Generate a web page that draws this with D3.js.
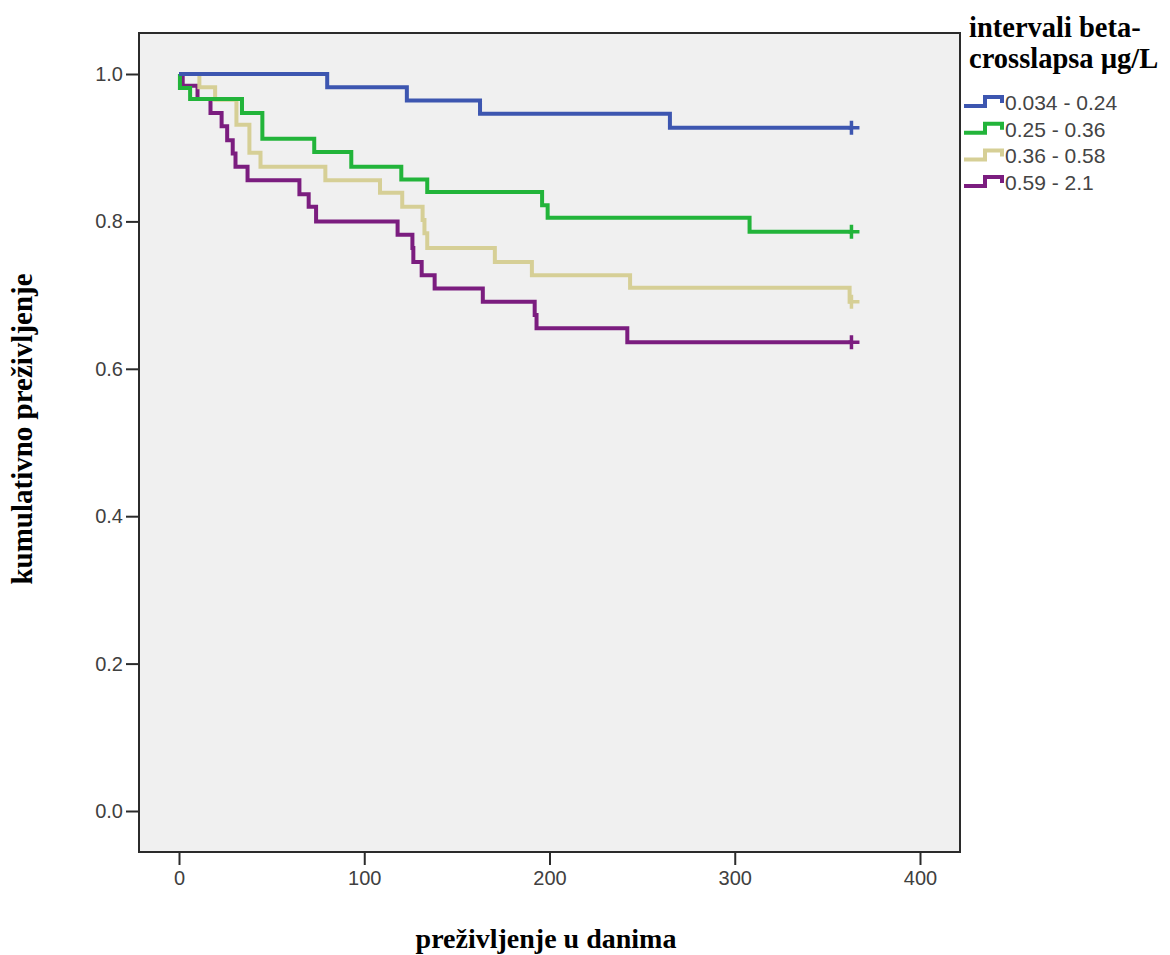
<!DOCTYPE html>
<html>
<head>
<meta charset="utf-8">
<script src="https://cdn.jsdelivr.net/npm/d3@7"></script>
<style>
  html, body { margin: 0; padding: 0; background: #ffffff; }
  svg { display: block; }
</style>
</head>
<body>
<svg id="chart" width="1170" height="955"></svg>
<script>
// ---------------- DATA ----------------
const seriesNames = ["0.034 - 0.24", "0.25 - 0.36", "0.36 - 0.58", "0.59 - 2.1"];
const seriesColors = ["#3d56b0", "#22b43a", "#d6cf96", "#7b1d7f"];

const blueTimes = [0, 80, 123, 162.5, 265, 363];
const blueSurv  = [1, 0.982, 0.964, 0.946, 0.927, 0.927];

const greenTimes = [0, 0.5, 6, 34, 45, 73, 93, 120, 134, 196, 199, 308, 363];
const greenSurv  = [1, 0.981, 0.966, 0.947, 0.912, 0.894, 0.874, 0.857, 0.840, 0.822, 0.805, 0.786, 0.786];

const tanTimes = [0, 11, 19.5, 31, 38, 44, 79, 108.5, 120.5, 131.5, 132.5, 134, 170.5, 190.5, 243.5, 362, 363];
const tanSurv  = [1, 0.982, 0.965, 0.931, 0.893, 0.874, 0.856, 0.839, 0.820, 0.802, 0.784, 0.764, 0.745, 0.727, 0.710, 0.691, 0.691];

const purpleTimes = [0, 2, 10, 17, 23, 26, 29, 30.5, 37, 65, 70, 74, 118, 126, 126.5, 131, 138, 164, 192, 193, 242, 363];
const purpleSurv  = [1, 0.984, 0.966, 0.947, 0.929, 0.910, 0.892, 0.874, 0.856, 0.837, 0.820, 0.800, 0.782, 0.764, 0.745, 0.727, 0.709, 0.691, 0.673, 0.655, 0.636, 0.636];

const censorTimes = [363, 363, 363, 363];

const xTicks = [0, 100, 200, 300, 400];
const yTicks = [0.0, 0.2, 0.4, 0.6, 0.8, 1.0];

const xLabel = "preživljenje u danima";
const yLabel = "kumulativno preživljenje";
const legendTitle = ["intervali beta-", "crosslapsa µg/L"];

// ---------------- LAYOUT ----------------
const svg = d3.select("#chart");
const frame = { left: 139, top: 33, right: 960, bottom: 852 };

const x = d3.scaleLinear().domain([0, 400]).range([179, 920]);
const y = d3.scaleLinear().domain([0, 1]).range([811, 74]);

// plot background & frame
svg.append("rect")
  .attr("x", frame.left).attr("y", frame.top)
  .attr("width", frame.right - frame.left).attr("height", frame.bottom - frame.top)
  .attr("fill", "#f0f0f0").attr("stroke", "#2b2b2b").attr("stroke-width", 2);

// axes
const yAxis = d3.axisLeft(y).tickValues(yTicks).tickFormat(d3.format(".1f")).tickSize(13).tickSizeOuter(0).tickPadding(3);
const gy = svg.append("g").attr("transform", `translate(${frame.left},0)`).call(yAxis);
const xAxis = d3.axisBottom(x).tickValues(xTicks).tickFormat(d3.format("d")).tickSize(13).tickSizeOuter(0).tickPadding(6);
const gx = svg.append("g").attr("transform", `translate(0,${frame.bottom})`).call(xAxis);

[gx, gy].forEach(g => {
  g.select(".domain").remove();
  g.selectAll(".tick line").attr("stroke", "#2b2b2b").attr("stroke-width", 2);
  g.selectAll(".tick text")
    .attr("fill", "#404040")
    .style("font-family", "'Liberation Sans', Arial, sans-serif")
    .style("font-size", "20px");
});

// curves
const series = [
  { name: seriesNames[0], color: seriesColors[0], t: blueTimes, s: blueSurv, c: censorTimes[0] },
  { name: seriesNames[1], color: seriesColors[1], t: greenTimes, s: greenSurv, c: censorTimes[1] },
  { name: seriesNames[2], color: seriesColors[2], t: tanTimes, s: tanSurv, c: censorTimes[2] },
  { name: seriesNames[3], color: seriesColors[3], t: purpleTimes, s: purpleSurv, c: censorTimes[3] }
];

const line = d3.line().x(d => x(d[0])).y(d => y(d[1])).curve(d3.curveStepAfter);

series.slice().reverse().forEach(sr => {
  const pts = sr.t.map((t, i) => [t, sr.s[i]]);
  svg.append("path")
    .attr("d", line(pts))
    .attr("fill", "none")
    .attr("stroke", sr.color)
    .attr("stroke-width", 4)
    .attr("stroke-linejoin", "miter");
  const sc = sr.s[sr.s.length - 1];
  const cx = x(sr.c), cy = y(sc);
  svg.append("path")
    .attr("d", `M${cx},${cy - 7}V${cy + 7}M${cx - 3},${cy}H${cx + 8}`)
    .attr("stroke", sr.color).attr("stroke-width", 3.5).attr("fill", "none");
});

// axis titles
svg.append("text")
  .attr("x", 546).attr("y", 948)
  .attr("text-anchor", "middle")
  .style("font-family", "'Liberation Serif', 'Times New Roman', serif")
  .style("font-weight", "bold").style("font-size", "28px")
  .attr("fill", "#000")
  .text(xLabel);

svg.append("text")
  .attr("transform", "translate(32,429) rotate(-90)")
  .attr("text-anchor", "middle")
  .style("font-family", "'Liberation Serif', 'Times New Roman', serif")
  .style("font-weight", "bold").style("font-size", "29px")
  .attr("fill", "#000")
  .text(yLabel);

// legend
const lg = svg.append("g");
legendTitle.forEach((tx, i) => {
  lg.append("text")
    .attr("x", 969).attr("y", 37 + i * 31)
    .style("font-family", "'Liberation Serif', 'Times New Roman', serif")
    .style("font-weight", "bold").style("font-size", "28.5px")
    .attr("fill", "#000")
    .text(tx);
});
const swatch = d3.line();
series.forEach((sr, i) => {
  const cy = 102 + i * 26.7;
  lg.append("path")
    .attr("d", swatch([[964, cy + 4], [985, cy + 4], [985, cy - 5], [1002, cy - 5], [1002, cy + 1]]))
    .attr("fill", "none").attr("stroke", sr.color).attr("stroke-width", 4);
  lg.append("text")
    .attr("x", 1005).attr("y", cy + 8)
    .style("font-family", "'Liberation Sans', Arial, sans-serif")
    .style("font-size", "21px")
    .attr("fill", "#444")
    .text(sr.name);
});
</script>
</body>
</html>
